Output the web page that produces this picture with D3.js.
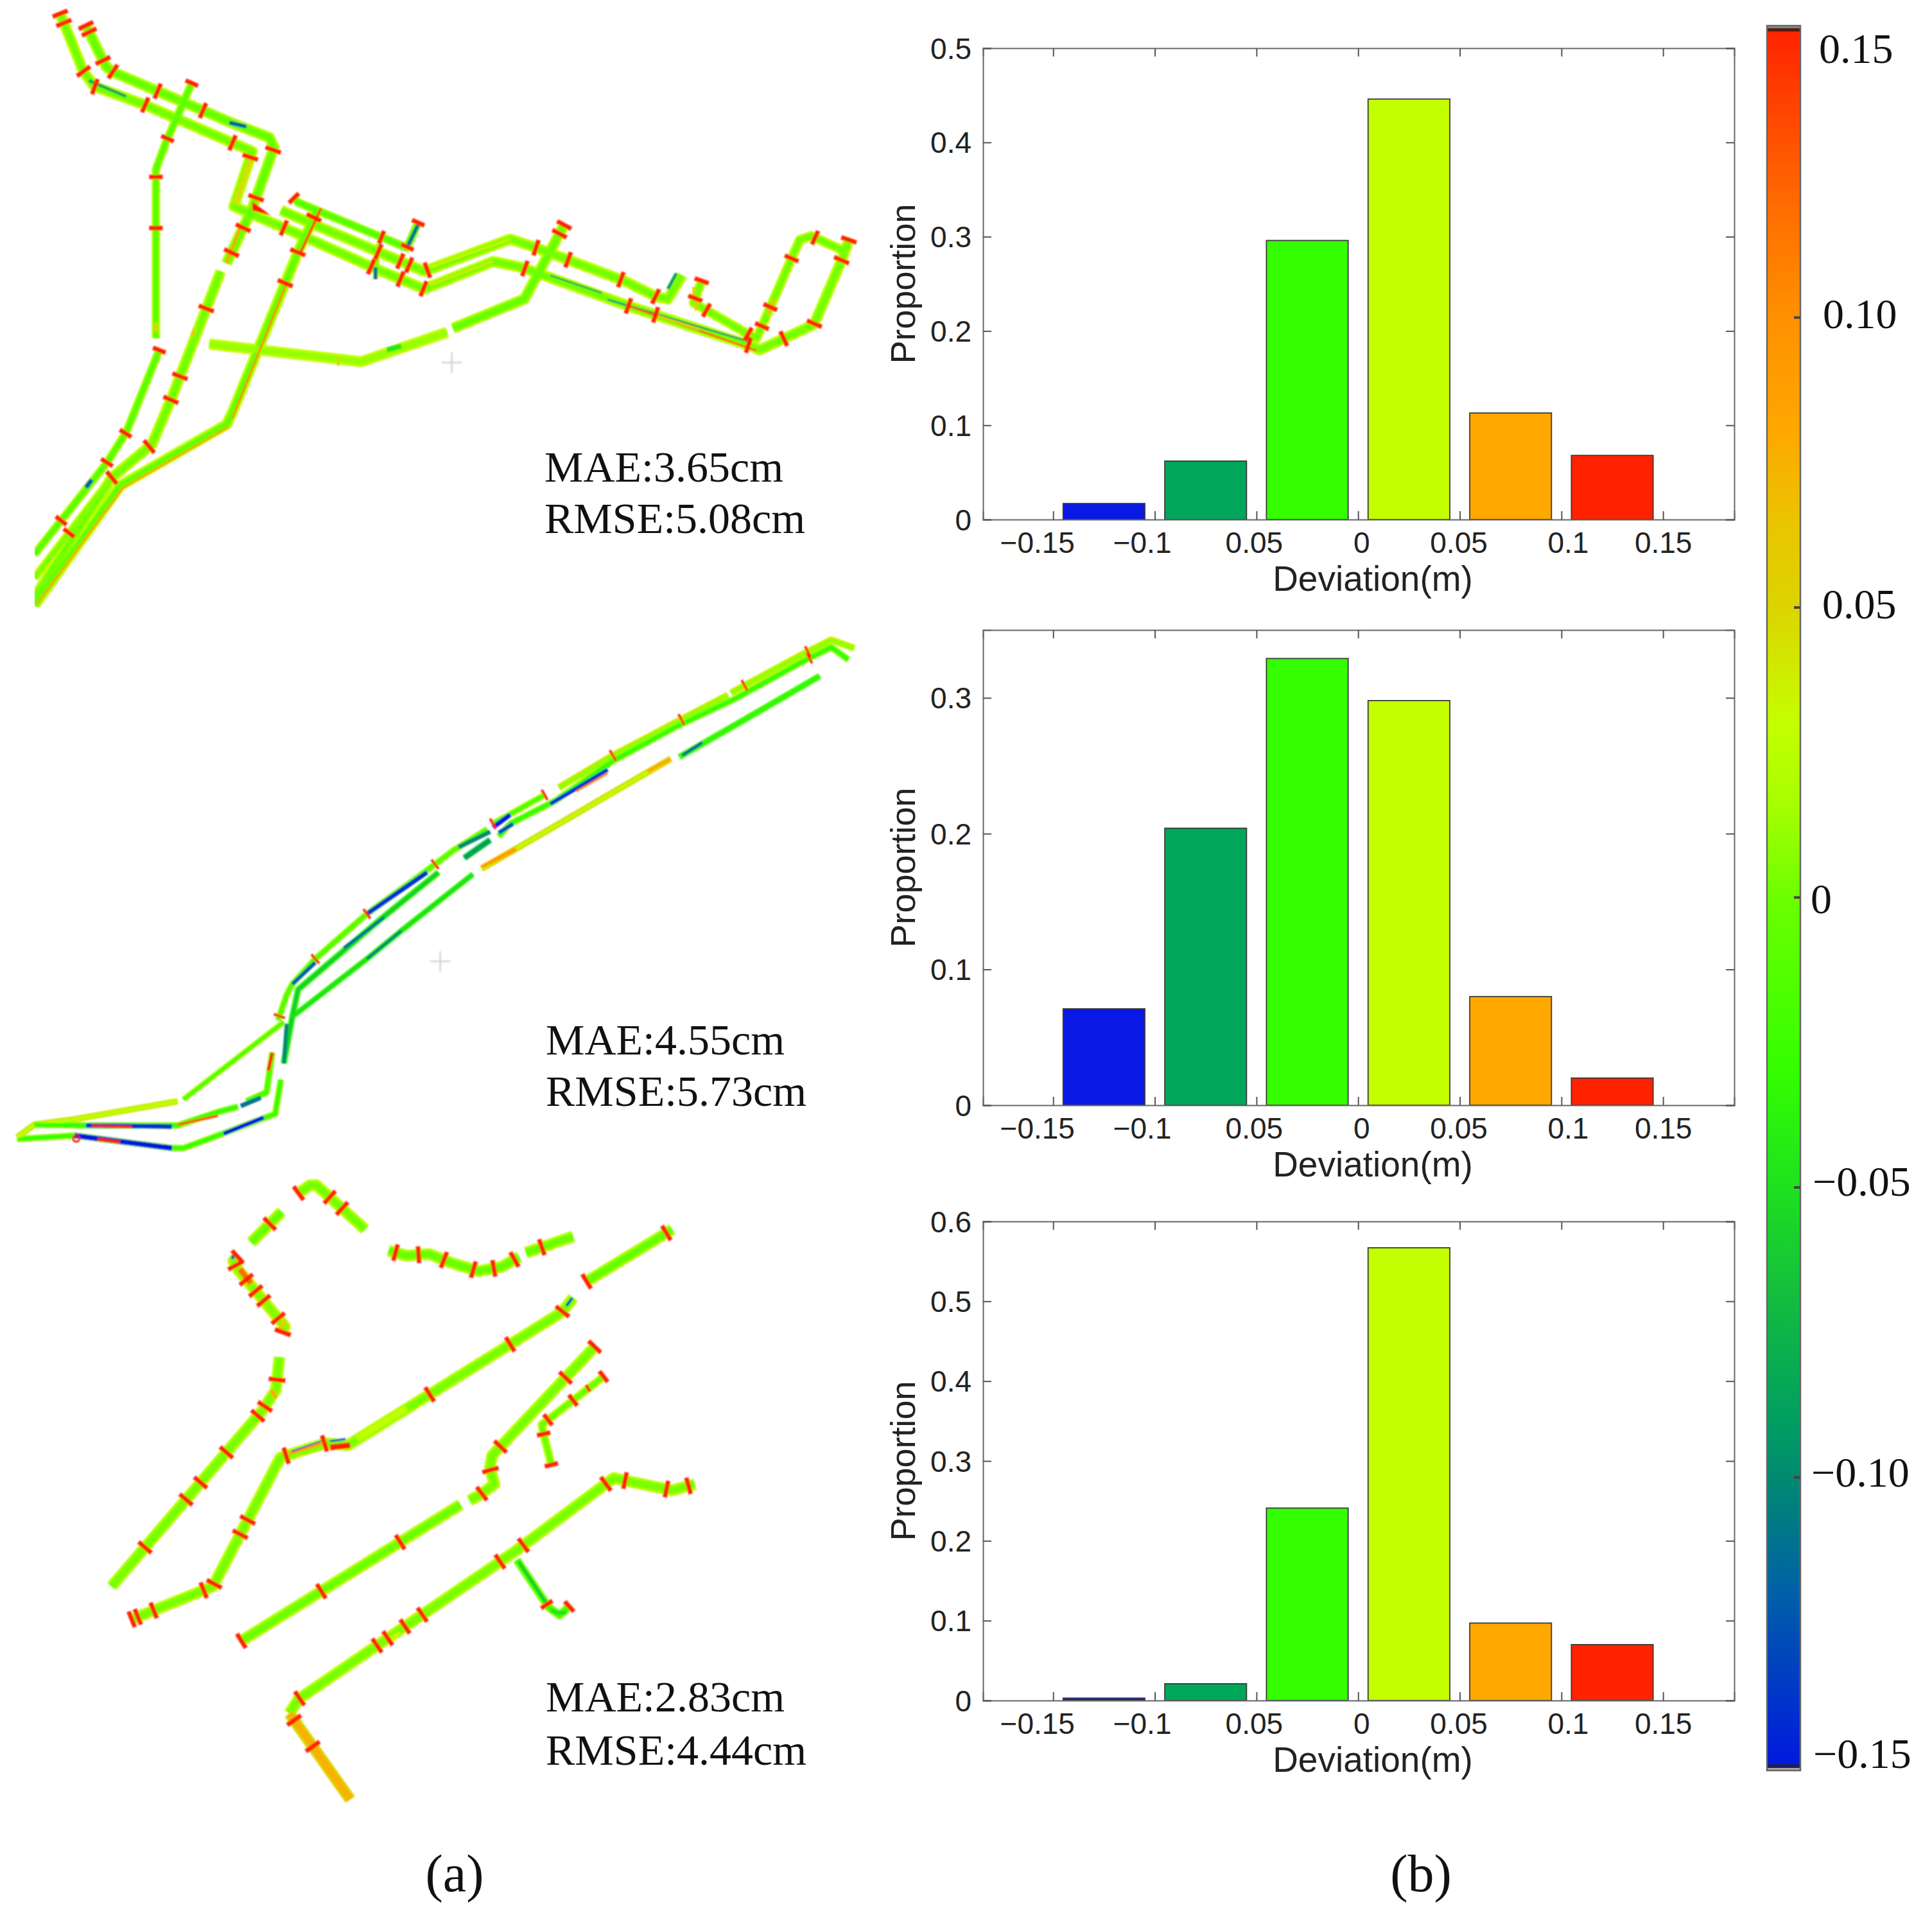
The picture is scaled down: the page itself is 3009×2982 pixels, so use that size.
<!DOCTYPE html>
<html>
<head>
<meta charset="utf-8">
<script src="https://cdn.jsdelivr.net/npm/d3@7/dist/d3.min.js"></script>
<style>
html,body{margin:0;padding:0;background:#fff;}
svg{display:block;}
</style>
</head>
<body>
<div id="chart"></div>
<script>
// ---------- histogram data ----------
const binCenters = [-0.125,-0.075,-0.025,0.025,0.075,0.125];
const binColors = ["#0a18e6","#00a65a","#33ff00","#c4ff00","#ffa800","#ff2200"];
const proportionA = [0.017,0.062,0.296,0.446,0.113,0.068];
const proportionB = [0.071,0.204,0.329,0.298,0.080,0.020];
const proportionC = [0.003,0.021,0.241,0.567,0.097,0.070];
const yMaxA = 0.5, yMaxB = 0.35, yMaxC = 0.6;
const yTicksA = [0,0.1,0.2,0.3,0.4,0.5];
const yTicksB = [0,0.1,0.2,0.3];
const yTicksC = [0,0.1,0.2,0.3,0.4,0.5,0.6];
const xTickValues = [-0.15,-0.1,-0.05,0,0.05,0.1,0.15];
const xTickLabels = ["\u22120.15","\u22120.1","0.05","0","0.05","0.1","0.15"];

// ---------- colour bar ----------
const cbarDevs   = [-0.15,-0.12,-0.10,-0.09,-0.07,-0.05,-0.03,0,0.015,0.03,0.05,0.065,0.08,0.10,0.12,0.15];
const cbarColors = ["#0018e0","#0060a8","#008a70","#009f60","#12bb40","#1ee11e","#33ff00","#6cff00","#a4ff00","#c4ff00","#dcd400","#eac400","#ffa800","#ff9100","#ff6a00","#ff2200"];
const cbarTicks  = [0.15,0.10,0.05,0,-0.05,-0.10,-0.15];
const cbarLabels = ["0.15","0.10","0.05","0","\u22120.05","\u22120.10","\u22120.15"];

// ---------- map A (map units) ----------
const mapATracks = [
 {pts:[[105,35],[145,180],[165,220],[250,265],[440,385],[408,525],[520,595],[650,680],[740,735],[860,665],[910,680],[1100,780],[1310,880],[1325,890],[1420,825],[1470,655],[1482,605]],dev:0.025,core:0.002},
 {pts:[[150,65],[185,170],[200,185],[280,235],[400,310],[470,350],[478,375],[440,530],[395,670]],dev:0.018,core:-0.003},
 {pts:[[385,690],[300,1010],[265,1130],[195,1215],[60,1520]],dev:0.025,core:0.002},
 {pts:[[335,210],[290,360],[272,430],[272,860]],dev:0.015,core:-0.01,w:13},
 {pts:[[278,890],[220,1100],[185,1180],[60,1410]],dev:0.015,core:-0.01,w:13},
 {pts:[[195,1215],[60,1470]],dev:0.028,core:0.005,w:13},
 {pts:[[555,530],[520,640],[405,1050],[395,1080],[210,1235],[60,1540]],dev:0.025,core:-0.005},
 {pts:[[365,875],[630,920],[780,845]],dev:0.028,core:0.012},
 {pts:[[790,835],[915,760],[985,570]],dev:0.02,core:-0.003},
 {pts:[[510,500],[520,515],[660,600],[710,630],[730,565]],dev:0.01,core:-0.012,w:13},
 {pts:[[490,535],[740,690],[890,608],[935,630],[1090,715],[1145,755],[1165,760],[1190,700]],dev:0.025,core:0.002},
 {pts:[[1225,710],[1210,770],[1305,850],[1320,860],[1395,610],[1415,600],[1475,640]],dev:0.025,core:0.002,w:15},
 {pts:[[660,620],[655,710]],dev:0.03,core:0.005,w:8}
];
const mapATicks = [[105,35],[112,58],[147,180],[165,222],[253,268],[405,365],[437,400],
 [150,65],[155,82],[178,155],[198,180],[275,232],[355,278],[470,378],[415,573],[400,640],[360,785],[310,955],[295,1015],[258,1132],[195,1215],[120,1355],
 [335,212],[293,353],[273,450],[272,580],[280,892],[222,1105],[185,1175],[110,1328],
 [550,555],[525,645],[497,720],[985,573],[983,600],
 [512,505],[665,605],[710,628],[730,567],
 [495,580],[660,640],[695,675],[712,680],[745,685],[935,630],[990,665],[1082,715],[1145,750],
 [437,498],[650,670],[700,705],[740,730],[915,685],[1095,783],[1145,795],[1305,880],[1370,870],[1420,823],[1465,660],[1480,610],
 [1225,715],[1215,760],[1228,800],[1305,850],[1330,830],[1350,785],[1385,660],[1420,610]];
const mapAPatches = [
 {pts:[[400,312],[430,322]],dev:-0.12,w:6},{pts:[[155,205],[220,245]],dev:-0.08,w:5},
 {pts:[[710,630],[730,570]],dev:-0.11,w:6},{pts:[[160,1220],[150,1240]],dev:-0.12,w:7},
 {pts:[[1060,762],[1305,868]],dev:-0.10,w:2.5},{pts:[[1100,780],[1320,892]],dev:0.13,w:3},
 {pts:[[1180,695],[1165,735]],dev:-0.09,w:5},{pts:[[655,680],[655,710]],dev:-0.11,w:6},
 {pts:[[440,395],[410,520]],dev:0.045,w:8},{pts:[[560,530],[525,640]],dev:0.14,w:4},
 {pts:[[500,720],[405,1065]],dev:0.11,w:3},{pts:[[400,1085],[215,1240],[65,1535]],dev:0.09,w:3},
 {pts:[[420,575],[395,670]],dev:0.09,w:4},{pts:[[675,890],[700,880]],dev:-0.045,w:8},
 {pts:[[590,908],[590,930]],dev:0.05,w:4},{pts:[[860,665],[750,725]],dev:0.04,w:4},
 {pts:[[890,608],[750,680]],dev:0.035,w:4},{pts:[[960,700],[1050,745]],dev:-0.08,w:3},
 {pts:[[1350,760],[1340,800]],dev:0.06,w:5},{pts:[[1210,730],[1215,790]],dev:0.05,w:5},
 {pts:[[272,820],[272,845]],dev:0.05,w:6},{pts:[[340,835],[335,855]],dev:0.05,w:6},
 {pts:[[1140,800],[1220,838]],dev:0.05,w:4}
];
const mapAWedge = [[440,512],[472,548],[440,535]];
const mapACross = [[788,922]];
const mapAText = ["MAE:3.65cm","RMSE:5.08cm"];

// ---------- map B ----------
const mapBTracks = [
 {pts:[[1490,88],[1450,65],[1400,105],[1275,212]],dev:0.035,core:0.01,w:11},
 {pts:[[1270,218],[1070,385],[975,475]],dev:0.04,core:0.01,w:11},
 {pts:[[950,495],[860,575]],dev:0.015,core:-0.02,w:10},
 {pts:[[850,590],[790,650],[740,710],[640,825],[550,950],[510,1020],[500,1050],[485,1120]],dev:0.01,core:-0.015,w:10},
 {pts:[[1480,120],[1450,85],[1400,125],[1280,230],[1180,305],[1070,400],[970,510],[890,575],[870,610]],dev:0.005,core:-0.03,w:10},
 {pts:[[855,620],[810,670]],dev:-0.06,core:-0.09,w:10},
 {pts:[[765,710],[660,845],[520,1035],[510,1110],[495,1240]],dev:-0.025,core:-0.06,w:10},
 {pts:[[490,1285],[480,1380],[380,1440],[320,1475],[300,1475],[130,1440],[30,1450]],dev:0.01,core:-0.03,w:10},
 {pts:[[1430,165],[1300,285],[1185,390]],dev:-0.015,core:-0.035,w:10},
 {pts:[[1170,395],[1040,515],[970,580],[840,700]],dev:0.055,core:0.025,w:10},
 {pts:[[825,715],[700,872],[640,950],[510,1110]],dev:-0.025,core:-0.05,w:9},
 {pts:[[495,1125],[320,1340]],dev:0.015,core:-0.015,w:9},
 {pts:[[310,1345],[130,1395],[60,1410],[30,1445]],dev:0.045,core:0.025,w:10},
 {pts:[[475,1210],[465,1320],[430,1345]],dev:0.005,core:-0.02,w:10},
 {pts:[[415,1360],[380,1375],[310,1412],[150,1412],[60,1410]],dev:0.005,core:-0.03,w:10}
];
const mapBTicks = [[1410,100],[1300,195],[1190,290],[1070,388],[950,490],[860,575],[760,690],[640,825],[550,950],[490,1110],[1415,125]];
const mapBPatches = [
 {pts:[[890,550],[860,585]],dev:-0.15,w:7},{pts:[[800,640],[855,597]],dev:-0.10,w:7},
 {pts:[[640,825],[745,710]],dev:-0.14,w:7},{pts:[[510,1020],[550,960]],dev:-0.12,w:6},
 {pts:[[1060,425],[960,520]],dev:-0.14,w:6},{pts:[[1060,435],[1005,485]],dev:0.11,w:3},
 {pts:[[870,600],[895,575]],dev:-0.13,w:6},{pts:[[700,872],[640,950]],dev:-0.10,w:5},
 {pts:[[670,835],[600,920]],dev:-0.11,w:5},{pts:[[150,1412],[300,1415]],dev:-0.14,w:7},
 {pts:[[130,1440],[300,1475]],dev:-0.15,w:8},{pts:[[460,1390],[390,1435]],dev:-0.15,w:6},
 {pts:[[500,1130],[495,1240]],dev:-0.10,w:6},{pts:[[420,1358],[455,1335]],dev:-0.11,w:7},
 {pts:[[160,1412],[230,1416]],dev:0.15,w:4},{pts:[[170,1450],[210,1458]],dev:0.15,w:5},
 {pts:[[475,1210],[468,1260]],dev:0.15,w:5},{pts:[[310,1410],[380,1385]],dev:0.13,w:4},
 {pts:[[1190,385],[1225,350]],dev:-0.11,w:5},
 {pts:[[840,695],[900,645]],dev:0.09,w:6},{pts:[[1130,430],[1170,395]],dev:0.08,w:5}
];
const mapBRing = [[133,1448]];
const mapBCross = [[768,957]];
const mapBText = ["MAE:4.55cm","RMSE:5.73cm"];

// ---------- map C ----------
const mapCTracks = [
 {pts:[[415,180],[483,105]],dev:0.02,core:-0.002},
 {pts:[[520,60],[545,40],[560,40],[668,148]],dev:0.022,core:0.002},
 {pts:[[720,200],[760,212],[810,208],[860,230],[920,250],[970,240],[1010,215]],dev:0.02,core:-0.002},
 {pts:[[1025,205],[1130,165]],dev:0.02,core:-0.002},
 {pts:[[1350,148],[1160,275]],dev:0.02,core:-0.005},
 {pts:[[385,215],[375,225],[385,245],[490,385],[485,400]],dev:0.035,core:0.005},
 {pts:[[478,460],[470,540],[440,590],[105,1020]],dev:0.02,core:0.003},
 {pts:[[1130,315],[1105,350],[630,675],[580,670],[480,705],[330,1020],[150,1100]],dev:0.022,core:0.003},
 {pts:[[1180,432],[950,700],[945,730],[955,770],[925,795],[900,810]],dev:0.022,core:0.003},
 {pts:[[880,820],[390,1155]],dev:0.022,core:0.0},
 {pts:[[1200,505],[1060,625],[1065,650],[1082,725]],dev:0.025,core:0.0,w:13},
 {pts:[[1400,770],[1350,785],[1240,760],[1220,755],[1000,935],[520,1295],[500,1330]],dev:0.022,core:0.003},
 {pts:[[500,1330],[635,1540]],dev:0.05,core:0.075},
 {pts:[[1005,955],[1075,1070],[1100,1090],[1125,1065]],dev:0.005,core:-0.03,w:13}
];
const mapCTicks = [[455,133],[522,62],[585,75],[612,103],[735,207],[787,215],[842,225],[910,240],[953,238],[1000,222],[1062,197],
 [1337,157],[1158,277],[392,208],[382,235],[405,270],[427,297],[443,322],[473,367],[483,398],
 [472,515],[452,585],[435,608],[365,697],[307,770],[273,810],[182,927],
 [1108,350],[992,432],[812,552],[580,678],[495,708],[408,858],[390,892],[330,1012],[310,1030],[200,1082],[165,1098],[148,1100],
 [1176,433],[1113,510],[970,680],[948,735],[925,790],[745,910],[570,1030],[392,1150],
 [1197,507],[1128,563],[1072,610],[1063,648],[1080,723],
 [1385,770],[1338,778],[1245,762],[1203,770],[1018,917],[968,960],[797,1092],[760,1123],[722,1152],[697,1168],[525,1297],[512,1345],[555,1408],
 [1070,1065],[1122,1070]];
const mapCPatches = [
 {pts:[[390,245],[415,280]],dev:0.12,w:9},{pts:[[372,220],[380,205]],dev:-0.12,w:5},
 {pts:[[590,680],[635,675]],dev:0.15,w:9},{pts:[[500,695],[570,670]],dev:0.09,w:6},
 {pts:[[505,690],[570,665]],dev:-0.14,w:2},{pts:[[590,665],[625,660]],dev:-0.13,w:3},
 {pts:[[1128,315],[1115,335]],dev:-0.13,w:4},{pts:[[460,540],[470,560]],dev:0.08,w:6},
 {pts:[[650,660],[760,585]],dev:0.03,w:9},{pts:[[1010,960],[1070,1060]],dev:-0.06,w:5},
 {pts:[[1160,538],[1166,534]],dev:0.15,w:12},{pts:[[480,390],[490,370]],dev:0.06,w:6},
 {pts:[[1080,1080],[1115,1085]],dev:-0.05,w:5},{pts:[[720,1150],[745,1135]],dev:0.03,w:8}
];
const mapCText = ["MAE:2.83cm","RMSE:4.44cm"];

const panelCaptions = ["(a)","(b)"];
const axisXTitle = "Deviation(m)";
const axisYTitle = "Proportion";

// ---------- drawing ----------
const W = 3009, H = 2982;
const svg = d3.select("#chart").append("svg").attr("width",W).attr("height",H).attr("viewBox",`0 0 ${W} ${H}`);
svg.append("rect").attr("width",W).attr("height",H).attr("fill","#fff");

const colorScale = d3.scaleLinear().domain(cbarDevs).range(cbarColors).clamp(true);
const SERIF = "'Liberation Serif','Times New Roman',serif";
const SANS  = "'Liberation Sans',Arial,sans-serif";
const defs = svg.append("defs");
defs.append("filter").attr("id","soft").attr("x","-2%").attr("y","-2%").attr("width","104%").attr("height","104%")
  .append("feGaussianBlur").attr("stdDeviation",1);

// maps
function drawMap(cfg){
  const g = svg.append("g");
  const sx = d3.scaleLinear().domain([0,1568]).range(cfg.xr);
  const sy = d3.scaleLinear().domain([0,1568]).range(cfg.yr);
  const line = d3.line().x(d=>sx(d[0])).y(d=>sy(d[1])).curve(d3.curveLinear);
  let host = g;
  if(cfg.clip){
    defs.append("clipPath").attr("id",cfg.id).append("rect")
      .attr("x",cfg.clip[0]).attr("y",cfg.clip[1]).attr("width",cfg.clip[2]).attr("height",cfg.clip[3]);
    host = g.append("g").attr("clip-path",`url(#${cfg.id})`);
  }
  host = host.append("g").attr("filter","url(#soft)");
  const common = s=>s.attr("fill","none").attr("stroke-linejoin","round").attr("stroke-linecap","butt");
  host.selectAll(".base").data(cfg.tracks).enter().append("path").attr("d",d=>line(d.pts)).call(common)
    .attr("stroke",d=>colorScale(d.dev)).attr("stroke-width",d=>d.w||cfg.w);
  host.selectAll(".core").data(cfg.tracks).enter().append("path").attr("d",d=>line(d.pts)).call(common)
    .attr("stroke",d=>colorScale(d.core)).attr("stroke-width",d=>(d.w||cfg.w)*0.6);
  host.selectAll(".patch").data(cfg.patches).enter().append("path").attr("d",d=>line(d.pts)).call(common)
    .attr("stroke",d=>colorScale(d.dev)).attr("stroke-width",d=>d.w);
  // perpendicular red cross marks, oriented from the nearest stretch of track
  const segs=[];
  cfg.tracks.forEach(t=>{const p=t.pts.map(q=>[sx(q[0]),sy(q[1])]);
    for(let i=0;i<p.length-1;i++) segs.push([p[i],p[i+1],t.w||cfg.w]);});
  const ticks = cfg.ticks.map(q=>{
    const P=[sx(q[0]),sy(q[1])]; let best=null,bd=1e12;
    segs.forEach(s=>{const dx=s[1][0]-s[0][0],dy=s[1][1]-s[0][1],l=dx*dx+dy*dy;
      let u=l?((P[0]-s[0][0])*dx+(P[1]-s[0][1])*dy)/l:0; u=Math.max(0,Math.min(1,u));
      const cx=s[0][0]+u*dx,cy=s[0][1]+u*dy,dd=(P[0]-cx)**2+(P[1]-cy)**2;
      if(dd<bd){bd=dd;best={cx,cy,nx:-dy/Math.sqrt(l),ny:dx/Math.sqrt(l),w:s[2]};}});
    return best;});
  host.selectAll(".tick").data(ticks).enter().append("line")
    .attr("x1",d=>d.cx-d.nx*(d.w/2+4)).attr("y1",d=>d.cy-d.ny*(d.w/2+4))
    .attr("x2",d=>d.cx+d.nx*(d.w/2+4)).attr("y2",d=>d.cy+d.ny*(d.w/2+4))
    .attr("stroke",colorScale(0.15)).attr("stroke-width",cfg.tickW);
  if(cfg.wedge) host.append("path").attr("d",line(cfg.wedge)+"Z").attr("fill","#ff1500");
  (cfg.rings||[]).forEach(r=>host.append("circle").attr("cx",sx(r[0])).attr("cy",sy(r[1])).attr("r",5).attr("fill","none").attr("stroke","#f01000").attr("stroke-width",3));
  (cfg.cross||[]).forEach(c=>{const x=sx(c[0]),y=sy(c[1]);
    host.append("path").attr("d",`M${x-16},${y}H${x+16}M${x},${y-16}V${y+16}`).attr("stroke","#d4d4d4").attr("stroke-width",2.5).attr("fill","none");});
  cfg.text.forEach((t,i)=>svg.append("text").attr("x",cfg.tx).attr("y",cfg.ty[i]).text(t)
    .attr("font-family",SERIF).attr("font-size",68).attr("fill","#111"));
}
drawMap({id:"clipA",xr:[0,1400],yr:[0,960],tracks:mapATracks,ticks:mapATicks,patches:mapAPatches,wedge:mapAWedge,cross:mapACross,w:17,tickW:7,clip:[54,0,1300,945],text:mapAText,tx:848,ty:[750,830]});
drawMap({id:"clipB",xr:[0,1400],yr:[960,1840],tracks:mapBTracks,ticks:mapBTicks,patches:mapBPatches,rings:mapBRing,cross:mapBCross,w:10,tickW:4,text:mapBText,tx:850,ty:[1642,1722]});
drawMap({id:"clipC",xr:[100,1200],yr:[1820,2820],tracks:mapCTracks,ticks:mapCTicks,patches:mapCPatches,w:18,tickW:7,text:mapCText,tx:850,ty:[2665,2748]});

// histograms
const plotLeft=1531, plotRight=2701;
const xScale = d3.scaleLinear().domain([-0.1845,0.185]).range([plotLeft,plotRight]);
const labelShift = [-25,-20,-4,5,-2,10,0];
function drawHist(top,bottom,yMax,values,yTicks){
  const g = svg.append("g");
  const y = d3.scaleLinear().domain([0,yMax]).range([bottom,top]);
  const fmt = d=>d===0?"0":String(d);
  const bw = xScale(0.0402)-xScale(0);
  g.selectAll("rect.bar").data(values).enter().append("rect").attr("class","bar")
    .attr("x",(d,i)=>xScale(binCenters[i])-bw/2).attr("width",bw)
    .attr("y",d=>y(d)).attr("height",d=>bottom-y(d))
    .attr("fill",(d,i)=>binColors[i]).attr("stroke","#3a3a3a").attr("stroke-width",1.8);
  const axB = g.append("g").attr("transform",`translate(0,${bottom})`)
    .call(d3.axisBottom(xScale).tickValues(xTickValues).tickSize(-13).tickFormat((d,i)=>xTickLabels[i]).tickPadding(0));
  const axT = g.append("g").attr("transform",`translate(0,${top})`)
    .call(d3.axisTop(xScale).tickValues(xTickValues).tickSize(-13).tickFormat(""));
  const axL = g.append("g").attr("transform",`translate(${plotLeft},0)`)
    .call(d3.axisLeft(y).tickValues(yTicks).tickSize(-13).tickPadding(18).tickFormat(fmt));
  const axR = g.append("g").attr("transform",`translate(${plotRight},0)`)
    .call(d3.axisRight(y).tickValues(yTicks).tickSize(-13).tickFormat(""));
  [axB,axT,axL,axR].forEach(a=>{
    a.selectAll(".domain").attr("stroke","#666").attr("stroke-width",2);
    a.selectAll(".tick line").attr("stroke","#555").attr("stroke-width",2);
    a.selectAll("text").attr("font-family",SANS).attr("font-size",46).attr("fill","#222");
  });
  axB.selectAll(".tick text").attr("dy",null).attr("y",52).attr("x",(d,i)=>labelShift[i]);
  axL.selectAll(".tick text").attr("dy",null).attr("y",16);
  g.append("text").attr("x",2138).attr("y",bottom+111).attr("text-anchor","middle").text(axisXTitle)
    .attr("font-family",SANS).attr("font-size",55).attr("fill","#222");
  g.append("text").attr("transform",`translate(1425,${(top+bottom)/2}) rotate(-90)`).attr("text-anchor","middle").text(axisYTitle)
    .attr("font-family",SANS).attr("font-size",54).attr("fill","#222");
}
drawHist(75,809,yMaxA,proportionA,yTicksA);
drawHist(981,1721,yMaxB,proportionB,yTicksB);
drawHist(1902,2648,yMaxC,proportionC,yTicksC);

// colour bar
const cbarY = d3.scaleLinear().domain([-0.15,0.15]).range([2752,43]);
const grad = defs.append("linearGradient").attr("id","cbar").attr("x1",0).attr("x2",0).attr("y1",1).attr("y2",0);
cbarDevs.forEach((d,i)=>grad.append("stop").attr("offset",(d+0.15)/0.3).attr("stop-color",cbarColors[i]));
const cb = svg.append("g");
const cx0=2752, cx1=2804;
cb.append("rect").attr("x",cx0).attr("y",cbarY(0.15)).attr("width",cx1-cx0).attr("height",cbarY(-0.15)-cbarY(0.15)).attr("fill","url(#cbar)");
cb.append("rect").attr("x",cx0).attr("y",cbarY(0.15)-3).attr("width",cx1-cx0).attr("height",4).attr("fill","#7a8a8e");
cb.append("rect").attr("x",cx0).attr("y",cbarY(0.15)+1).attr("width",cx1-cx0).attr("height",5).attr("fill","#5a1a10");
cb.append("rect").attr("x",cx0).attr("y",cbarY(-0.15)-5).attr("width",cx1-cx0).attr("height",6).attr("fill","#1a2060");
cb.append("rect").attr("x",cx0).attr("y",cbarY(-0.15)+1).attr("width",cx1-cx0).attr("height",4).attr("fill","#aaa");
cb.append("rect").attr("x",cx0).attr("y",cbarY(0.15)-3).attr("width",cx1-cx0).attr("height",cbarY(-0.15)-cbarY(0.15)+8).attr("fill","none").attr("stroke","#666").attr("stroke-width",2.5);
cb.selectAll("line.t").data(cbarTicks.slice(1,-1)).enter().append("line").attr("class","t")
  .attr("x1",cx1-10).attr("x2",cx1).attr("y1",d=>cbarY(d)).attr("y2",d=>cbarY(d)).attr("stroke","#444").attr("stroke-width",4);
const cbLabelX=[2833,2839,2838,2820,2823,2821,2824], cbLabelDy=[55,16,17,24,13,14,1];
cb.selectAll("text").data(cbarTicks).enter().append("text")
  .attr("x",(d,i)=>cbLabelX[i]).attr("y",(d,i)=>cbarY(d)+cbLabelDy[i]).text((d,i)=>cbarLabels[i])
  .attr("font-family",SERIF).attr("font-size",66).attr("fill","#111");

// captions
svg.append("text").attr("x",708).attr("y",2945).attr("text-anchor","middle").text(panelCaptions[0]).attr("font-family",SERIF).attr("font-size",82).attr("fill","#111");
svg.append("text").attr("x",2213).attr("y",2945).attr("text-anchor","middle").text(panelCaptions[1]).attr("font-family",SERIF).attr("font-size",82).attr("fill","#111");
</script>
</body>
</html>
